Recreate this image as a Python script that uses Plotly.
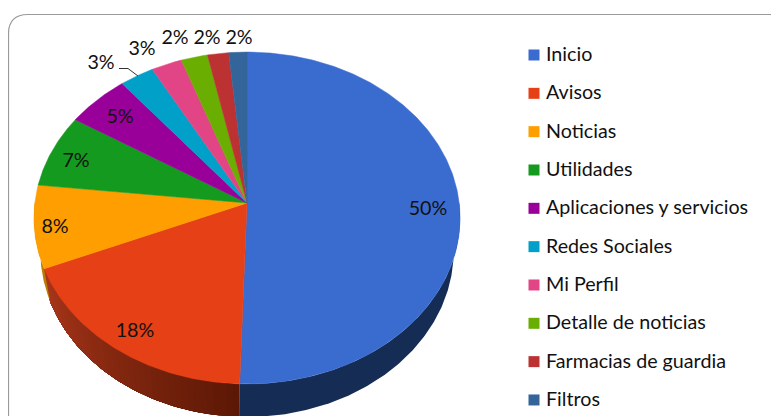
import math
import plotly.graph_objects as go

categories = ["Inicio", "Avisos", "Noticias", "Utilidades", "Aplicaciones y servicios",
              "Redes Sociales", "Mi Perfil", "Detalle de noticias", "Farmacias de guardia", "Filtros"]
values = [50.5, 18.2, 8.05, 7.15, 5.25, 2.85, 2.55, 2.2, 1.75, 1.5]
percent_labels = ["50%", "18%", "8%", "7%", "5%", "3%", "3%", "2%", "2%", "2%"]
colors = ["#3A6BCF", "#E64016", "#FF9E00", "#149A1E", "#99009A",
          "#00A0C8", "#E24585", "#69AE00", "#BC3232", "#33659B"]
wall_colors = ["#152D55", "#A8361A", "#C07A00", "#0B5A12", "#5A005A",
               "#006078", "#80284C", "#3D6600", "#6E1E1E", "#1E3C5C"]

label_px = [(428, 210), (135, 332), (55, 228), (76, 162), (120, 118),
            (101, 64), (142, 50), (175, 39), (207, 39), (239, 39)]
legend_x, legend_text_x, legend_y0, legend_dy = 534, 546, 55, 38.33
LEGEND_TEXT_DROP = 1

CX, CY, K, A, B = 247, 203, 0.0904, 164.6, 212.2
RIM_SCALE, RIM_DROP = 0.97, 33
FONT = dict(family="Lato", size=19.7, color="#111111")
PAGE_MARGIN = 8  # the page body offsets the figure by this many pixels


def project(theta):
    u, v = math.sin(theta), math.cos(theta)
    d = 1 + K * v
    return CX + B * u / d, CY - A * v / d


def rim(p):
    return CX + (p[0] - CX) * RIM_SCALE, p[1] + RIM_DROP


def arc(t0, t1):
    n = max(2, int(abs(t1 - t0) / 0.01))
    return [project(t0 + (t1 - t0) * i / n) for i in range(n + 1)]


fig = go.Figure()

total = sum(values)
edges = [0.0]
for val in values:
    edges.append(edges[-1] + val / total * 2 * math.pi)


def mix(c0, c1, f):
    a = [int(c0[i:i + 2], 16) for i in (1, 3, 5)]
    b = [int(c1[i:i + 2], 16) for i in (1, 3, 5)]
    return "rgb(%d,%d,%d)" % tuple(round(p + (q - p) * f) for p, q in zip(a, b))


def wall(t0, t1, color):
    pts = arc(t0, t1)
    low = [rim(p) for p in reversed(pts)]
    xs = [p[0] for p in pts] + [p[0] for p in low] + [pts[0][0]]
    ys = [p[1] for p in pts] + [p[1] for p in low] + [pts[0][1]]
    fig.add_trace(go.Scatter(x=xs, y=ys, mode="lines", fill="toself", fillcolor=color,
                             line=dict(width=0), hoverinfo="skip", showlegend=False))


# side wall of the slices on the visible (lower) half
side_start, side_end = math.radians(90), math.radians(270)
for i, (t0, t1) in enumerate(zip(edges[:-1], edges[1:])):
    a0, a1 = max(t0, side_start), min(t1, side_end)
    if a0 >= a1:
        continue
    if categories[i] == "Avisos":
        # darkening gradient: each strip runs to the end so no seams show
        steps = 40
        for s in range(steps):
            f0 = a0 + (a1 - a0) * s / steps
            wall(f0, a1, mix("#5C1805", wall_colors[i], s / (steps - 1)))
    else:
        wall(a0, a1, wall_colors[i])

# top faces
for i, (t0, t1) in enumerate(zip(edges[:-1], edges[1:])):
    pts = arc(t0, t1)
    xs = [CX] + [p[0] for p in pts] + [CX]
    ys = [CY] + [p[1] for p in pts] + [CY]
    fig.add_trace(go.Scatter(x=xs, y=ys, mode="lines", fill="toself", fillcolor=colors[i],
                             line=dict(width=0.5, color=colors[i]), name=categories[i],
                             text=percent_labels[i], hoverinfo="name+text", showlegend=False))

legend_ys = [legend_y0 + legend_dy * i for i in range(len(categories))]
fig.add_trace(go.Scatter(
    x=[legend_x] * len(categories), y=legend_ys, mode="markers",
    marker=dict(symbol="square", size=11, color=colors, line=dict(width=0)),
    hoverinfo="skip", showlegend=False,
))
fig.add_trace(go.Scatter(
    x=[legend_text_x] * len(categories), y=[y + LEGEND_TEXT_DROP for y in legend_ys], mode="text",
    text=categories, textposition="middle right", textfont=FONT,
    hoverinfo="skip", showlegend=False,
))

# data labels
fig.add_trace(go.Scatter(
    x=[p[0] for p in label_px], y=[p[1] for p in label_px],
    mode="text", text=percent_labels, textfont=FONT,
    hoverinfo="skip", showlegend=False,
))

fig.update_layout(
    width=779 - PAGE_MARGIN, height=416 - PAGE_MARGIN, autosize=False,
    margin=dict(l=0, r=0, t=0, b=0),
    paper_bgcolor="white", plot_bgcolor="white",
    xaxis=dict(range=[PAGE_MARGIN, 779], visible=False, fixedrange=True),
    yaxis=dict(range=[416, PAGE_MARGIN], visible=False, fixedrange=True),
    shapes=[
        dict(type="path", xref="x", yref="y",
             path="M 8.5 420 L 8.5 34 Q 8.5 14.5 28 14.5 L 771 14.5 Q 776 14.5 779 17",
             line=dict(color="#9A9A9A", width=1.2)),
        dict(type="path", xref="x", yref="y",
             path="M 119 68.5 L 128 68.5 L 138 76",
             line=dict(color="#333333", width=1)),
    ],
)

fig.write_html("out.html")
